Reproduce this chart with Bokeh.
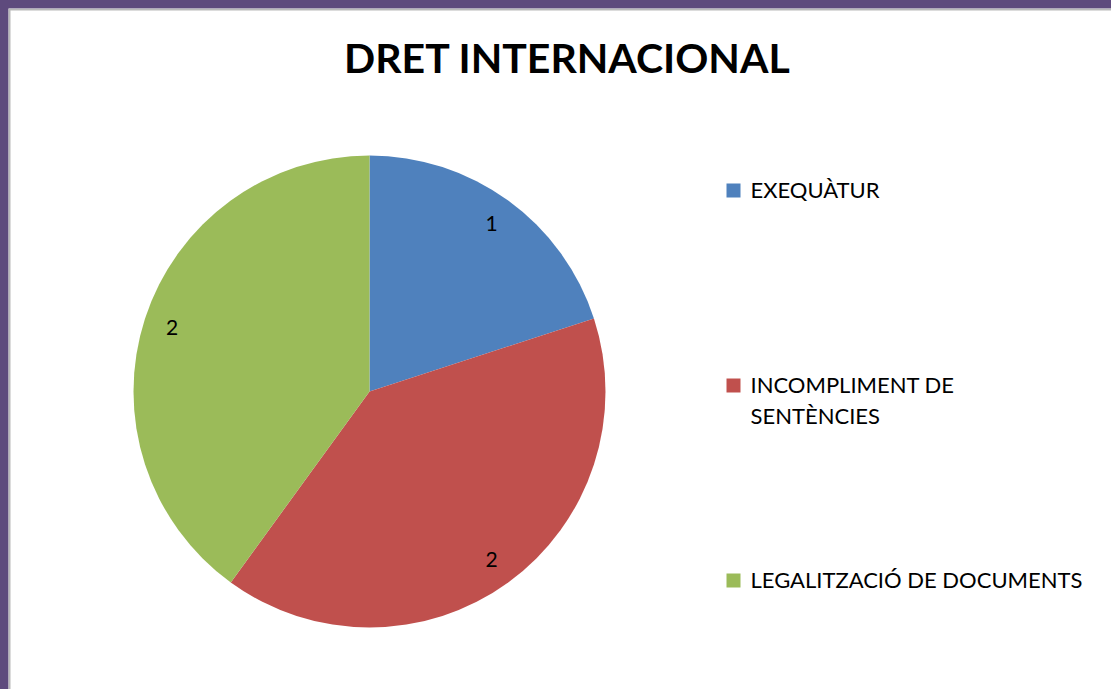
import numpy as np
from jinja2 import Template
from bokeh.plotting import figure
from bokeh.models import Range1d, Span, ColumnDataSource
from bokeh.core.properties import value
from bokeh.embed import file_html
from bokeh.resources import INLINE

# ---- data ----
title = "DRET INTERNACIONAL"
categories = ["EXEQUÀTUR", "INCOMPLIMENT DE SENTÈNCIES", "LEGALITZACIÓ DE DOCUMENTS"]
legend_labels = ["EXEQUÀTUR", "INCOMPLIMENT DE\nSENTÈNCIES", "LEGALITZACIÓ DE DOCUMENTS"]
values = [1, 2, 2]
colors = ["#4F81BD", "#C0504D", "#9BBB59"]

# ---- layout (data units == screen pixels) ----
W, H = 1103, 681
def X(sx):
    return sx - 8
def Y(sy):
    return 689 - sy

p = figure(width=W, height=H, x_range=Range1d(0, W), y_range=Range1d(0, H),
           output_backend="svg", toolbar_location=None, min_border=0)
p.axis.visible = False
p.grid.visible = False
p.outline_line_color = None
p.background_fill_color = "white"
p.border_fill_color = "white"

p.add_layout(Span(location=1, dimension="height", line_color="#b9b9b9", line_width=2))
p.add_layout(Span(location=H - 1, dimension="width", line_color="#b9b9b9", line_width=2))

vals = np.array(values, dtype=float)
frac = vals / vals.sum()
cum = np.concatenate([[0.0], np.cumsum(frac)])
start = np.pi / 2 - cum[1:] * 2 * np.pi
end = np.pi / 2 - cum[:-1] * 2 * np.pi
cx, cy, r = X(369), Y(391), 236

src = ColumnDataSource(dict(start=start, end=end, color=colors, cat=categories))
p.wedge(x=cx, y=cy, radius=r, start_angle="start", end_angle="end",
        fill_color="color", line_color=None, source=src)

mid = (start + end) / 2
lr = 0.88 * r
p.text(x=cx + lr * np.cos(mid), y=cy + lr * np.sin(mid), text=[str(v) for v in values],
       text_align="center", text_baseline="middle", text_font=value("Lato"),
       text_font_size="21px", text_color="black")

# title
p.text(x=[X(567)], y=[Y(57)], text=[title], text_align="center", text_baseline="alphabetic",
       text_font=value("Lato"), text_font_style="bold", text_font_size="41px", text_color="black")

# legend
sq_y = [Y(190) - i * 195 for i in range(len(categories))]
p.rect(x=[X(733)] * len(categories), y=sq_y, width=14, height=14,
       fill_color=colors, line_color=None)
tx, ty, tt = [], [], []
for i, lab in enumerate(legend_labels):
    for j, line in enumerate(lab.split("\n")):
        tx.append(X(750))
        ty.append(sq_y[i] + 1 - j * 31)
        tt.append(line)
p.text(x=tx, y=ty, text=tt, text_align="left", text_baseline="alphabetic",
       text_font=value("Lato"), text_font_size="22px", text_color="black")

tpl = Template("""{% extends base %}
{% block preamble %}<style>
html, body { background: #5e4a7d !important; overflow: hidden !important; }
body { margin: 0 !important; padding: 8px 0 0 8px !important; box-sizing: border-box !important; }
</style>{% endblock %}""")

open("out.html", "w").write(file_html(p, INLINE, template=tpl))
